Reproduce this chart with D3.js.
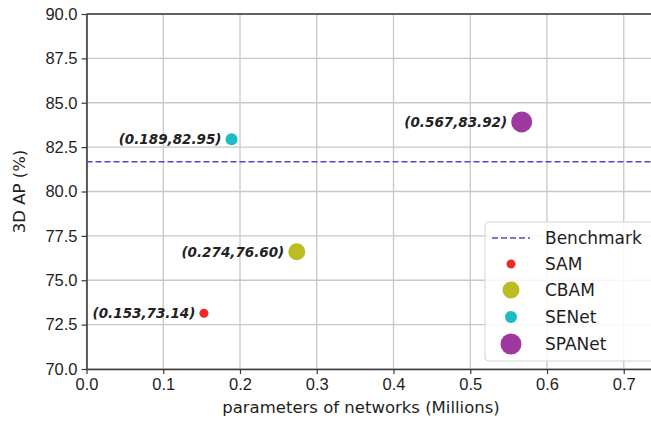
<!DOCTYPE html>
<html>
<head>
<meta charset="utf-8">
<script src="https://cdn.jsdelivr.net/npm/d3@7"></script>
<style>
  body { margin: 0; background: #fff; }
  svg { font-family: "DejaVu Sans", sans-serif; display: block; }
</style>
</head>
<body>
<div id="chart"></div>
<script>
(function () {
    /* ----------------------- Data ----------------------- */
    const models = ["SAM", "CBAM", "SENet", "SPANet"];
    const params = [0.153, 0.274, 0.189, 0.567];
    const apValues = [73.14, 76.60, 82.95, 83.92];
    const colors = ["#ee2a24", "#bcbd22", "#1bbcc4", "#a0399f"];
    const radii = [4.5, 8.5, 6, 10.5];
    const benchmark = 81.68;
    const xTicks = [0.0, 0.1, 0.2, 0.3, 0.4, 0.5, 0.6, 0.7];
    const yTicks = [70.0, 72.5, 75.0, 77.5, 80.0, 82.5, 85.0, 87.5, 90.0];

    /* ----------------------- Dimensions ----------------------- */
    const W = 651, H = 422;
    const margin = { top: 14, left: 86.5, bottom: 53 };
    const svg = d3.select("#chart").append("svg")
        .attr("width", W).attr("height", H);

    const x = d3.scaleLinear().domain([0, 0.7355]).range([margin.left, W]);
    const y = d3.scaleLinear().domain([70, 90]).range([H - margin.bottom, margin.top]);

    // grid
    svg.append("g").selectAll("line").data(xTicks).enter().append("line")
        .attr("x1", d => x(d)).attr("x2", d => x(d))
        .attr("y1", y(70)).attr("y2", y(90))
        .attr("stroke", "#c8c8c8").attr("stroke-width", 1.3);
    svg.append("g").selectAll("line").data(yTicks).enter().append("line")
        .attr("x1", x(0)).attr("x2", W)
        .attr("y1", d => y(d)).attr("y2", d => y(d))
        .attr("stroke", "#c8c8c8").attr("stroke-width", 1.3);

    // axes
    const xAxis = svg.append("g")
        .attr("transform", `translate(0,${y(70)})`)
        .call(d3.axisBottom(x).tickValues(xTicks).tickFormat(d3.format(".1f")).tickSize(5).tickSizeOuter(0));
    const yAxis = svg.append("g")
        .attr("transform", `translate(${x(0)},0)`)
        .call(d3.axisLeft(y).tickValues(yTicks).tickFormat(d3.format(".1f")).tickSize(5).tickSizeOuter(0));
    [xAxis, yAxis].forEach(g => {
        g.select(".domain").attr("stroke", "#3a3a3a").attr("stroke-width", 1.6);
        g.selectAll(".tick line").attr("stroke", "#3a3a3a").attr("stroke-width", 1.2);
        g.selectAll(".tick text").attr("fill", "#1e1e1e").style("font-size", "16.5px");
    });
    xAxis.selectAll(".tick text").attr("dy", "0.8em");
    yAxis.selectAll(".tick text").attr("dx", "-1px");

    // top spine
    svg.append("line")
        .attr("x1", x(0)).attr("x2", W).attr("y1", y(90)).attr("y2", y(90))
        .attr("stroke", "#3a3a3a").attr("stroke-width", 1.6);

    // axis labels
    svg.append("text")
        .attr("x", 361).attr("y", 413)
        .attr("text-anchor", "middle").attr("fill", "#1e1e1e")
        .style("font-size", "16.5px")
        .text("parameters of networks (Millions)");
    svg.append("text")
        .attr("transform", `translate(25,${(y(70) + y(90)) / 2}) rotate(-90)`)
        .attr("text-anchor", "middle").attr("fill", "#1e1e1e")
        .style("font-size", "16.5px")
        .text("3D AP (%)");

    // benchmark line
    svg.append("line")
        .attr("x1", x(0)).attr("x2", W)
        .attr("y1", y(benchmark)).attr("y2", y(benchmark))
        .attr("stroke", "#4a4ac8").attr("stroke-width", 1.6)
        .attr("stroke-dasharray", "6,3");

    // points
    const data = models.map((m, i) => ({ name: m, x: params[i], y: apValues[i], color: colors[i], r: radii[i] }));
    svg.append("g").selectAll("circle").data(data).enter().append("circle")
        .attr("cx", d => x(d.x)).attr("cy", d => y(d.y))
        .attr("r", d => d.r).attr("fill", d => d.color);

    // annotations
    svg.append("g").selectAll("text").data(data).enter().append("text")
        .attr("x", d => x(d.x) - d.r - 4)
        .attr("y", d => y(d.y))
        .attr("dy", "0.35em")
        .attr("text-anchor", "end")
        .attr("fill", "#222")
        .style("font-size", "13.5px")
        .style("font-style", "italic")
        .style("font-weight", "600")
        .text(d => `(${d.x.toFixed(3)},${d.y.toFixed(2)})`);

    /* ----------------------- Legend ----------------------- */
    const legend = svg.append("g").attr("transform", "translate(485,222)");
    legend.append("rect")
        .attr("x", 0).attr("y", 0).attr("width", 175).attr("height", 139)
        .attr("rx", 4).attr("fill", "#fff").attr("fill-opacity", 0.85)
        .attr("stroke", "#d4d4d4").attr("stroke-width", 1);
    const rowY = [16, 42, 68, 95, 122];
    legend.append("line")
        .attr("x1", 7).attr("x2", 45).attr("y1", rowY[0]).attr("y2", rowY[0])
        .attr("stroke", "#4a4ac8").attr("stroke-width", 1.6)
        .attr("stroke-dasharray", "6,3");
    legend.append("text")
        .attr("x", 60).attr("y", rowY[0]).attr("dy", "0.35em")
        .attr("fill", "#1e1e1e").style("font-size", "17px").text("Benchmark");
    data.forEach((d, i) => {
        legend.append("circle")
            .attr("cx", 26).attr("cy", rowY[i + 1]).attr("r", d.r).attr("fill", d.color);
        legend.append("text")
            .attr("x", 60).attr("y", rowY[i + 1]).attr("dy", "0.35em")
            .attr("fill", "#1e1e1e").style("font-size", "17px").text(d.name);
    });
})();
</script>
</body>
</html>
